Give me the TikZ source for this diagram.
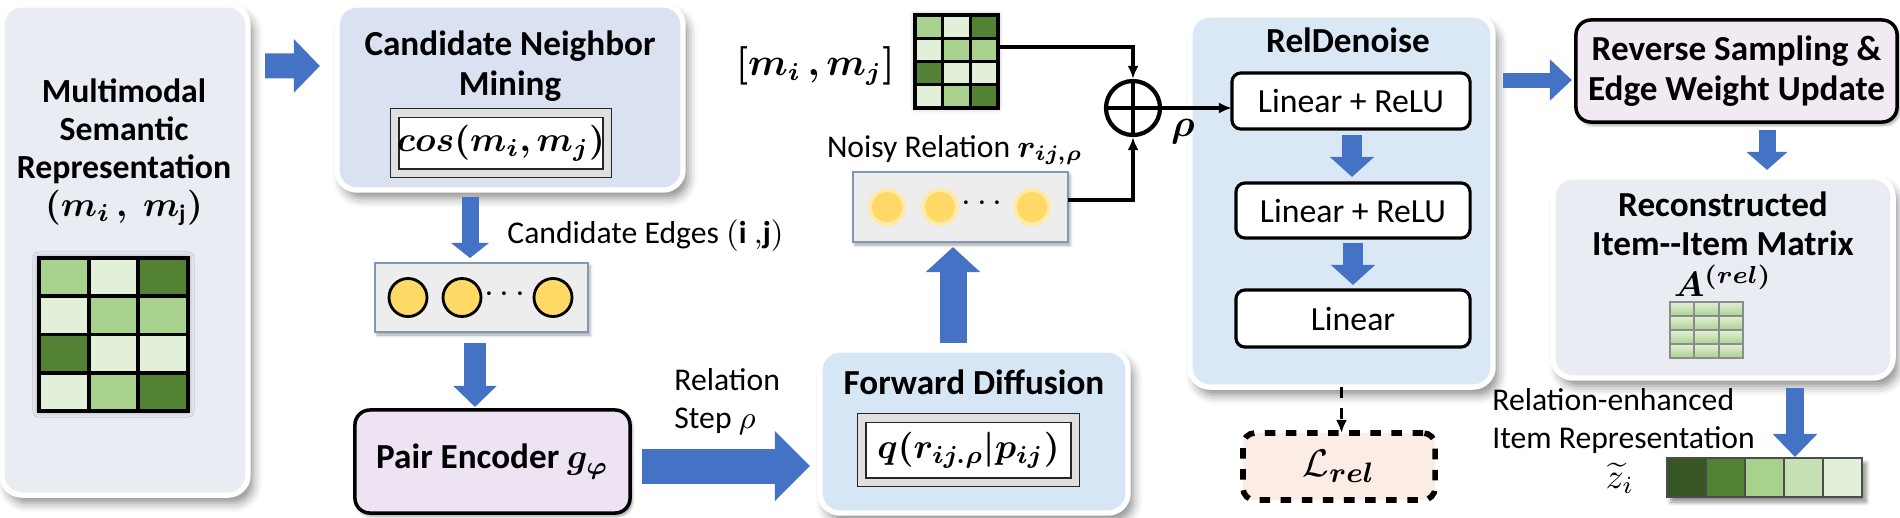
\documentclass[tikz,border=0pt]{standalone}
\usepackage{amsmath,amssymb,bm}
\usepackage{fontspec}
\setmainfont{Carlito}
\usetikzlibrary{arrows.meta,shadows,shadows.blur,calc,positioning}

\definecolor{arrowblue}{HTML}{4472C4}
\definecolor{gL}{HTML}{A9D18E}
\definecolor{gV}{HTML}{E2F0D9}
\definecolor{gD}{HTML}{548235}
\definecolor{gK}{HTML}{375623}
\definecolor{gM}{HTML}{C5E0B4}
\definecolor{dotY}{HTML}{FFD966}
\definecolor{panelGrey}{HTML}{E9ECF2}
\definecolor{panelLav}{HTML}{DAE1F0}
\definecolor{panelBlue}{HTML}{D6E6F5}
\definecolor{panelBlueB}{HTML}{DAE8F6}
\definecolor{pairLav}{HTML}{EDE3F3}
\definecolor{revPink}{HTML}{F2EAF2}
\definecolor{lossPeach}{HTML}{FBEDE4}
\definecolor{dotFill}{HTML}{EDEDED}
\definecolor{dotEdge}{HTML}{8497B0}

\tikzset{
  panel/.style={draw=white, line width=1.5pt, rounded corners=0.2cm, outer sep=0pt,
    blur shadow={shadow xshift=0.05cm, shadow yshift=-0.08cm, shadow blur radius=0.09cm, shadow opacity=45}},
  stagebox/.style={draw=black, line width=1pt, rounded corners=0.15cm, outer sep=0pt, align=center,
    blur shadow={shadow xshift=0.02cm, shadow yshift=-0.03cm, shadow blur radius=0.03cm, shadow opacity=40}},
  layer/.style={draw=black, line width=0.9pt, fill=white, rounded corners=0.09cm, outer sep=0pt,
    font=\fontsize{9.6}{11}\selectfont},
  formula/.style={draw=black!85, double=black!12, double distance=2pt, fill=white, inner sep=0pt, outer sep=0pt,
    font=\fontsize{10}{12}\selectfont,
    blur shadow={shadow xshift=0.02cm, shadow yshift=-0.02cm, shadow blur radius=0.02cm, shadow opacity=40}},
  dotbox/.style={draw=dotEdge, line width=0.8pt, fill=dotFill, outer sep=0pt,
    blur shadow={shadow xshift=0.02cm, shadow yshift=-0.03cm, shadow blur radius=0.03cm, shadow opacity=35}},
  lossbox/.style={draw=black, line width=1.6pt, dashed, fill=lossPeach, rounded corners=0.12cm, outer sep=0pt,
    font=\fontsize{11}{13}\selectfont},
  blk/.style n args={3}{draw=arrowblue, line width=#1, -{Triangle[width=#2, length=#3]}},
  thinarrow/.style={line width=0.9pt, -{Latex[length=0.13cm, width=0.11cm]}},
  ttl/.style={font=\fontsize{10}{11.2}\selectfont\bfseries, align=center},
  lbl/.style={font=\fontsize{9}{10.8}\selectfont, align=left},
}

\begin{document}
\begin{tikzpicture}[x=0.01cm, y=-0.01cm]
\useasboundingbox (0,0) rectangle (1900,517);

% background panels
\node[panel, fill=panelGrey, minimum width=2.46cm, minimum height=4.9cm] (mm) at (125,250) {};
\node[panel, fill=panelLav, minimum width=3.46cm, minimum height=1.85cm] (cnm) at (510,97.5) {};
\node[panel, fill=panelBlue, minimum width=3.08cm, minimum height=1.63cm] (fwd) at (974,431.5) {};
\node[panel, fill=panelBlueB, minimum width=3.03cm, minimum height=3.72cm] (rel) at (1341.5,201) {};
\node[panel, fill=panelGrey, minimum width=3.40cm, minimum height=2.01cm] (recon) at (1723,277.5) {};

% multimodal input
\node[font=\fontsize{9.6}{10.8}\selectfont\bfseries, align=center] (mmtxt) at (124,152)
  {Multimodal\\Semantic\\Representation\\$\bm{(m_i\,,\;m_{\mathrm{j}})}$};
\node[minimum width=1.49cm, minimum height=1.53cm, inner sep=0pt, outer sep=0pt,
  blur shadow={shadow xshift=0cm, shadow yshift=0cm, shadow blur radius=0.06cm, shadow opacity=40}] (mat1) at (113.5,334.5) {};
\foreach \c [count=\k from 0] in {gL,gV,gD,gV,gL,gL,gD,gV,gV,gV,gL,gD} {
  \pgfmathtruncatemacro\col{mod(\k,3)}
  \pgfmathtruncatemacro\row{\k/3}
  \filldraw[fill=\c, draw=black, line width=1.1pt] ([shift={(\col*49.67,\row*38.25)}]mat1.north west) rectangle ++(49.67,38.25);
}

% candidate neighbour mining
\node[ttl] (cnmttl) at (510,66) {Candidate Neighbor\\Mining};
\node[formula, minimum width=2.12cm, minimum height=0.60cm] (cos) at (501,143) {$\bm{cos(m_i, m_j)}$};
\node[lbl, anchor=west] (edgelbl) at (495,236) {Candidate Edges $\mathbf{(i\ ,\!j)}$};
\node[dotbox, minimum width=2.13cm, minimum height=0.69cm] (dots1) at (481.5,297.5) {};
\foreach \dx in {-73.5,-19.5,71.5}
  \filldraw[fill=dotY, draw=black, line width=0.8pt] ([shift={(\dx,0)}]dots1.center) circle (0.19cm);
\node (dd1) at ([shift={(26,-3)}]dots1.center) {$\cdots$};

% pair encoder
\node[stagebox, fill=pairLav, minimum width=2.75cm, minimum height=1.03cm, ttl] (pair) at (492.5,461.5) {Pair Encoder $\bm{g_\varphi}$};
\node[lbl, anchor=west] (steplbl) at (662,402) {Relation\\Step $\rho$};

% forward diffusion
\node[ttl] (fwdttl) at (974,382) {Forward Diffusion};
\node[formula, minimum width=2.13cm, minimum height=0.64cm] (qbox) at (968.5,450) {$\bm{q(r_{ij.\rho}|p_{ij})}$};

% noisy relation and side input
\node[dotbox, minimum width=2.15cm, minimum height=0.70cm] (noisy) at (960.5,207) {};
\foreach \dx in {-73.5,-20.5,71.5} {
  \fill[dotY!55] ([shift={(\dx,0)}]noisy.center) circle (0.19cm);
  \fill[dotY] ([shift={(\dx,0)}]noisy.center) circle (0.15cm);
}
\node (dd2) at ([shift={(24.5,-3)}]noisy.center) {$\cdots$};
\node[lbl] (noisylbl) at (955,150) {Noisy Relation $\bm{r_{ij,\rho}}$};
\node[minimum width=0.83cm, minimum height=0.93cm, inner sep=0pt, outer sep=0pt,
  blur shadow={shadow xshift=0cm, shadow yshift=0cm, shadow blur radius=0.05cm, shadow opacity=40}] (mat2) at (956.5,61.5) {};
\foreach \c [count=\k from 0] in {gL,gV,gD,gV,gL,gL,gD,gV,gV,gV,gL,gD} {
  \pgfmathtruncatemacro\col{mod(\k,3)}
  \pgfmathtruncatemacro\row{\k/3}
  \filldraw[fill=\c, draw=black, line width=0.9pt] ([shift={(\col*27.67,\row*23.25)}]mat2.north west) rectangle ++(27.67,23.25);
}
\node[anchor=east, font=\fontsize{10.5}{12}\selectfont] (mijlbl) at (907,66) {$\bm{[m_i\,,m_j]}$};

% fusion
\node[circle, draw, line width=1.2pt, minimum size=0.54cm, inner sep=0pt] (oplus) at (1133,108) {};
\draw[line width=1.2pt] (oplus.north) -- (oplus.south) (oplus.west) -- (oplus.east);
\draw[thinarrow] ([shift={(0,-14.5)}]mat2.east) -| (oplus.north);
\draw[thinarrow] ([shift={(0,-7)}]noisy.east) -| (oplus.south);
\node[font=\fontsize{11}{12}\selectfont] (rho) at (1183,132) {$\bm{\rho}$};

% denoiser
\node[ttl] (relttl) at (1348,40) {RelDenoise};
\node[layer, minimum width=2.38cm, minimum height=0.56cm] (lin1) at (1351,101) {Linear + ReLU};
\node[layer, minimum width=2.34cm, minimum height=0.55cm] (lin2) at (1353,210.5) {Linear + ReLU};
\node[layer, minimum width=2.34cm, minimum height=0.57cm] (lin3) at (1353,318.5) {Linear};
\draw[thinarrow] (oplus.east) -- (oplus.east -| lin1.west);
\node[lossbox, minimum width=1.92cm, minimum height=0.67cm] (loss) at (1339,466.5) {$\mathcal{L}_{\bm{rel}}$};
\draw[dashed, line width=1pt, -{Latex[length=0.13cm, width=0.11cm]}] (rel.south) -- (rel.south |- loss.north);

% reverse sampling and output
\node[stagebox, fill=revPink, minimum width=3.21cm, minimum height=1.02cm, ttl] (rev) at (1736.5,71) {Reverse Sampling \&\\Edge Weight Update};
\node[ttl] (recttl) at (1723,224) {Reconstructed\\Item-{}-Item Matrix};
\node[font=\fontsize{10}{12}\selectfont] (arel) at (1723,281) {$\bm{A^{(rel)}}$};
\node[minimum width=0.73cm, minimum height=0.56cm, inner sep=0pt, outer sep=0pt] (mat3) at (1706.5,330) {};
\foreach \r in {0,...,3}
  \foreach \c in {0,...,2}
    \shade[top color=gV, bottom color=gL, draw=black!45, line width=0.5pt] ([shift={(\c*24.33,\r*14)}]mat3.north west) rectangle ++(24.33,14);
\node[lbl, anchor=west] (enhlbl) at (1480,421) {Relation-enhanced\\Item Representation};
\node[font=\fontsize{10}{12}\selectfont] (zlbl) at (1620,478) {$\widetilde{z}_i$};
\node[minimum width=1.95cm, minimum height=0.39cm, inner sep=0pt, outer sep=0pt,
  blur shadow={shadow xshift=0.04cm, shadow yshift=-0.05cm, shadow blur radius=0.04cm, shadow opacity=45}] (vec) at (1764.5,477.5) {};
\foreach \c [count=\k from 0] in {gK,gD,gL,gM,gV}
  \filldraw[fill=\c, draw=black!70, line width=0.8pt] ([shift={(\k*39,0)}]vec.north west) rectangle ++(39,39);

% block arrows
\draw[blk={0.25cm}{0.52cm}{0.26cm}] ([shift={(17,61)}]mm.north east) -- ([shift={(-17,61)}]cnm.north west);
\draw[blk={0.17cm}{0.37cm}{0.15cm}] ([shift={(-40,7)}]cnm.south) -- ([shift={(-11.5,-5)}]dots1.north);
\draw[blk={0.22cm}{0.42cm}{0.21cm}] ([shift={(-6.5,11)}]dots1.south) -- ([shift={(-17.5,-3)}]pair.north);
\draw[blk={0.35cm}{0.68cm}{0.35cm}] ([shift={(12,4.5)}]pair.east) -- ([shift={(-10,34.5)}]fwd.west);
\draw[blk={0.27cm}{0.53cm}{0.25cm}] ([shift={(-21,-7)}]fwd.north) -- ([shift={(-7.5,5)}]noisy.south);
\draw[blk={0.20cm}{0.43cm}{0.20cm}] ([shift={(1,6)}]lin1.south) -- ([shift={(-1,-6)}]lin2.north);
\draw[blk={0.20cm}{0.43cm}{0.20cm}] ([shift={(0,5)}]lin2.south) -- ([shift={(0,-5)}]lin3.north);
\draw[blk={0.15cm}{0.40cm}{0.22cm}] ([shift={(10,-121)}]rel.east) -- ([shift={(-4,9)}]rev.west);
\draw[blk={0.17cm}{0.40cm}{0.18cm}] ([shift={(30.5,8)}]rev.south) -- ([shift={(44,-7)}]recon.north);
\draw[blk={0.18cm}{0.43cm}{0.23cm}] ([shift={(72,10)}]recon.south) -- ([shift={(30.5,-1)}]vec.north);
\end{tikzpicture}
\end{document}
